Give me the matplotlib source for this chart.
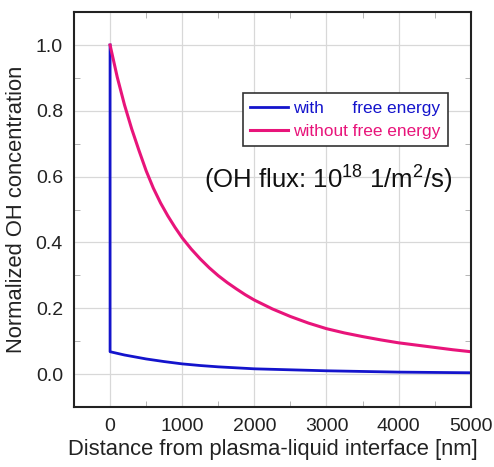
import matplotlib
matplotlib.use("Agg")
import matplotlib.pyplot as plt
from matplotlib.ticker import MultipleLocator

plt.rcParams['font.family'] = ['Liberation Sans', 'DejaVu Sans']
plt.rcParams['mathtext.fontset'] = 'custom'
plt.rcParams['mathtext.rm'] = 'Liberation Sans'
plt.rcParams['mathtext.it'] = 'Liberation Sans'

# data
x_without = [0, 100, 200, 300, 400, 500, 600, 700, 800, 900, 1000, 1125, 1250, 1375, 1500, 1625,
             1750, 1875, 2000, 2250, 2500, 2750, 3000, 3250, 3500, 3750, 4000, 4250, 4500, 4750, 5000]
y_without = [1.000, 0.902, 0.818, 0.745, 0.680, 0.618, 0.565, 0.520, 0.481, 0.446, 0.414,
             0.380, 0.350, 0.323, 0.299, 0.278, 0.259, 0.241, 0.225, 0.198, 0.175, 0.155,
             0.138, 0.125, 0.114, 0.104, 0.095, 0.088, 0.081, 0.074, 0.068]

x_with = [0, 0, 100, 200, 300, 400, 500, 750, 1000, 1250, 1500, 2000, 2500, 3000, 3500, 4000, 4500, 5000]
y_with = [1.000, 0.068, 0.063, 0.058, 0.054, 0.050, 0.046, 0.038, 0.031, 0.026, 0.022, 0.016,
          0.013, 0.010, 0.008, 0.006, 0.005, 0.004]

labels = ['with      free energy', 'without free energy']
colors = ['#1414cc', '#e8147a']
xticks = [0, 1000, 2000, 3000, 4000, 5000]
yticks = [0.0, 0.2, 0.4, 0.6, 0.8, 1.0]

fig = plt.figure(figsize=(4.94, 4.67), dpi=100)
ax = fig.add_axes([0.1498, 0.1285, 0.8032, 0.8455])

ax.plot(x_with, y_with, color=colors[0], lw=2.0, label=labels[0])
ax.plot(x_without, y_without, color=colors[1], lw=2.2, label=labels[1])

ax.set_xlim(-500, 5000)
ax.set_ylim(-0.1, 1.1)
ax.set_xticks(xticks)
ax.set_yticks(yticks)
ax.set_yticklabels([f'{v:.1f}' for v in yticks])
ax.xaxis.set_minor_locator(MultipleLocator(500))
ax.yaxis.set_minor_locator(MultipleLocator(0.1))
ax.tick_params(which='major', length=0, labelsize=14, pad=8, colors='#222222')
ax.tick_params(which='minor', direction='in', length=4, color='#aaaaaa', top=True, right=True)
ax.grid(True, which='major', color='#d8d8d8', lw=0.9)
ax.set_axisbelow(True)
for s in ax.spines.values():
    s.set_linewidth(1.5)
    s.set_color('#222222')

ax.set_xlabel('Distance from plasma-liquid interface [nm]', fontsize=15.8, labelpad=3, color='#222222')
ax.set_ylabel('Normalized OH concentration', fontsize=15.8, labelpad=6, color='#222222')

leg = ax.legend(loc='upper left', bbox_to_anchor=(0.425, 0.795), fontsize=12.4, frameon=True,
                fancybox=False, edgecolor='#333333', framealpha=1, handlelength=2.2,
                handletextpad=0.3, borderpad=0.45, labelspacing=0.45, borderaxespad=0)
leg.get_frame().set_linewidth(1.2)
for t, c in zip(leg.get_texts(), colors):
    t.set_color(c)

ax.text(0.955, 0.575, r'(OH flux: 10$^{18}$ 1/m$^{2}$/s)', transform=ax.transAxes,
        ha='right', va='center', fontsize=18.5, color='#111111')

fig.savefig('out.png', dpi=100)
